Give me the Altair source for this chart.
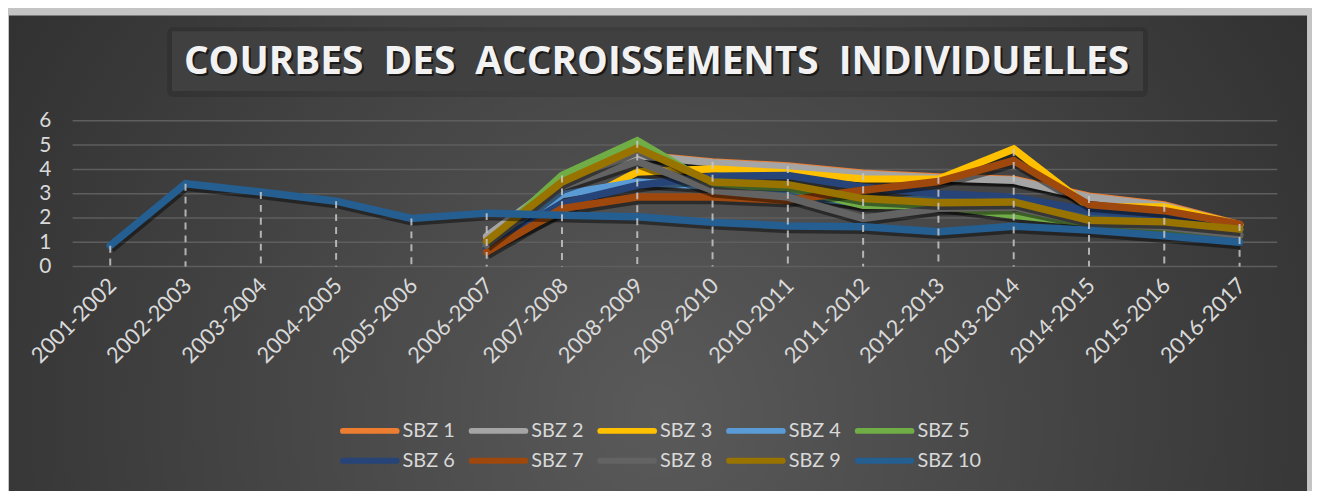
import altair as alt
import pandas as pd

NB = "\u00a0\u00a0"
title_text = "COURBES" + NB + "DES" + NB + "ACCROISSEMENTS" + NB + "INDIVIDUELLES"

periods = ["2001-2002", "2002-2003", "2003-2004", "2004-2005", "2005-2006",
           "2006-2007", "2007-2008", "2008-2009", "2009-2010", "2010-2011",
           "2011-2012", "2012-2013", "2013-2014", "2014-2015", "2015-2016",
           "2016-2017"]

y_ticks = [0, 1, 2, 3, 4, 5, 6]

series_names = ["SBZ 1", "SBZ 2", "SBZ 3", "SBZ 4", "SBZ 5",
                "SBZ 6", "SBZ 7", "SBZ 8", "SBZ 9", "SBZ 10"]

colors = ["#ED7D31", "#A5A5A5", "#FFC000", "#5B9BD5", "#70AD47",
          "#264478", "#9E480E", "#636363", "#997300", "#255E91"]

N = None
sbz1 = [N, N, N, N, N, 1.20, 3.50, 4.60, 4.31, 4.14, 3.84, 3.69, 3.59, 2.90, 2.54, 1.73]
sbz2 = [N, N, N, N, N, 1.25, 3.55, 4.57, 4.27, 4.10, 3.80, 3.65, 3.55, 2.86, 2.50, 1.70]
sbz3 = [N, N, N, N, N, 0.80, 2.30, 3.89, 4.02, 3.85, 3.61, 3.60, 4.84, 2.45, 2.45, 1.72]
sbz4 = [N, N, N, N, N, 0.85, 2.96, 3.48, 3.30, 2.95, 2.60, 2.85, 2.80, 2.20, 2.05, 1.50]
sbz5 = [N, N, N, N, N, 0.95, 3.75, 5.18, 3.35, 3.25, 2.52, 2.50, 2.11, 1.80, 1.43, 1.30]
sbz6 = [N, N, N, N, N, 0.75, 2.60, 3.34, 3.72, 3.75, 3.27, 3.00, 2.86, 2.30, 2.10, 1.45]
sbz7 = [N, N, N, N, N, 0.60, 2.39, 2.86, 2.86, 2.73, 3.14, 3.50, 4.36, 2.55, 2.30, 1.75]
sbz8 = [N, N, N, N, N, 0.90, 3.30, 4.33, 3.14, 2.86, 1.98, 2.40, 2.45, 1.80, 1.64, 1.30]
sbz9 = [N, N, N, N, N, 1.05, 3.48, 4.88, 3.48, 3.37, 2.80, 2.63, 2.66, 1.91, 1.84, 1.54]
sbz10 = [0.86, 3.41, 3.07, 2.69, 1.98, 2.20, 2.11, 2.05, 1.82, 1.67, 1.64, 1.43, 1.66, 1.50, 1.27, 1.00]

all_series = [sbz1, sbz2, sbz3, sbz4, sbz5, sbz6, sbz7, sbz8, sbz9, sbz10]

rows = []
for name, vals in zip(series_names, all_series):
    for p, v in zip(periods, vals):
        if v is not None:
            rows.append({"period": p, "series": name, "value": v})
df = pd.DataFrame(rows)
grid_df = pd.DataFrame({"tick": y_ticks})

# legend layout (5 columns x 2 rows)
LEG_X0, LEG_STEP, LEG_Y0, LEG_ROW, SYM_LEN = 272, 129.5, 312, 30, 54
leg_df = pd.DataFrame({"series": series_names, "idx": list(range(len(series_names)))})

FONT = "Lato"
W, H = 1212, 146.7

x_axis = alt.Axis(title=None, labelAngle=-45, labelFontSize=22, labelColor="#d9d9d9",
                  labelFont=FONT, ticks=False, domain=False, grid=False, labelPadding=8,
                  labelOffset=-5, zindex=1)
y_axis = alt.Axis(title=None, values=y_ticks, grid=False, domain=False, ticks=False,
                  labelFontSize=21, labelColor="#d9d9d9", labelFont=FONT, labelPadding=22, zindex=1)
x_enc = alt.X("period:N", sort=periods, scale=alt.Scale(type="point", padding=0.5), axis=x_axis)
y_scale = alt.Scale(domain=[0, 6], nice=False, zero=True)
y_enc = alt.Y("value:Q", scale=y_scale, axis=y_axis)

color_scale = alt.Scale(domain=series_names, range=colors)
color_enc = alt.Color("series:N", scale=color_scale, legend=None)

dummy = pd.DataFrame({"a": [0]})

bg = alt.Chart(dummy).mark_rect(
    fill=alt.RadialGradient(gradient="radial", x1=0.5, y1=0.62, r1=0, x2=0.5, y2=0.62, r2=0.75,
                            stops=[alt.GradientStop(offset=0, color="#5a5a5a"),
                                   alt.GradientStop(offset=1, color="#262626")])
).encode(x=alt.value(-64), x2=alt.value(1242), y=alt.value(-106), y2=alt.value(380))

grid = alt.Chart(grid_df).mark_rule(color="#5e5e5e", strokeWidth=1.5).encode(
    y=alt.Y("tick:Q", scale=y_scale, axis=y_axis), x=alt.value(0), x2=alt.value(W))

title_shadow = alt.Chart(dummy).mark_rect(fill="#000000", opacity=0.12, cornerRadius=6).encode(
    x=alt.value(95), x2=alt.value(1082), y=alt.value(-94), y2=alt.value(-24))
title_box = alt.Chart(dummy).mark_rect(fill="#404040").encode(
    x=alt.value(100), x2=alt.value(1077), y=alt.value(-90), y2=alt.value(-30))
title_txt_sh = alt.Chart(dummy).mark_text(text=title_text, fontSize=39, fontWeight="bold", font="Open Sans",
                                         color="#000000", opacity=0.6, baseline="middle", align="center").encode(
    x=alt.value(589.5), y=alt.value(-57))
title_txt = alt.Chart(dummy).mark_text(text=title_text, fontSize=39, fontWeight="bold", font="Open Sans",
                                      color="#f2f2f2", baseline="middle", align="center").encode(
    x=alt.value(587.5), y=alt.value(-59))

layers = [bg, grid, title_shadow, title_box, title_txt_sh, title_txt]
for i, name in enumerate(series_names):
    base = alt.Chart(df).transform_filter(alt.datum.series == name)
    shadow = base.mark_line(color="#000000", opacity=0.45, strokeWidth=8.5, yOffset=3, xOffset=1,
                            strokeJoin="miter").encode(x=x_enc, y=y_enc)
    line = base.mark_line(strokeWidth=7.5, strokeJoin="miter", strokeCap="round").encode(
        x=x_enc, y=y_enc, color=color_enc)
    layers += [shadow, line]

drops = alt.Chart(df).mark_rule(color="#c8c8c8", strokeWidth=2, strokeDash=[7, 6], opacity=0.85).encode(
    x=x_enc, y=alt.Y("max(value):Q", scale=y_scale, axis=y_axis),
    y2=alt.datum(0))
layers.append(drops)

# manual legend
leg_base = alt.Chart(leg_df).transform_calculate(
    col=f"datum.idx % 5", row=f"floor(datum.idx / 5)"
).transform_calculate(
    lx=f"{LEG_X0} + datum.col * {LEG_STEP}",
    lx2=f"{LEG_X0} + datum.col * {LEG_STEP} + {SYM_LEN}",
    tx=f"{LEG_X0} + datum.col * {LEG_STEP} + {SYM_LEN} + 6",
    ly=f"{LEG_Y0} + datum.row * {LEG_ROW}"
)
leg_sym = leg_base.mark_rule(strokeWidth=6, strokeCap="round").encode(
    x=alt.X("lx:Q", scale=None, axis=None), x2="lx2:Q",
    y=alt.Y("ly:Q", scale=None, axis=None), color=color_enc)
leg_txt = leg_base.mark_text(align="left", baseline="middle", fontSize=20, font=FONT, color="#d9d9d9").encode(
    x=alt.X("tx:Q", scale=None, axis=None), y=alt.Y("ly:Q", scale=None, axis=None), text="series:N")
layers += [leg_sym, leg_txt]

chart = alt.layer(*layers).properties(
    width=W, height=H, autosize="none",
    padding={"left": 65, "top": 112, "right": 35, "bottom": 224},
    background="#c4c4c4"
).configure_view(strokeWidth=0)

chart.save("out.html", embed_options={"renderer": "svg", "actions": False})
